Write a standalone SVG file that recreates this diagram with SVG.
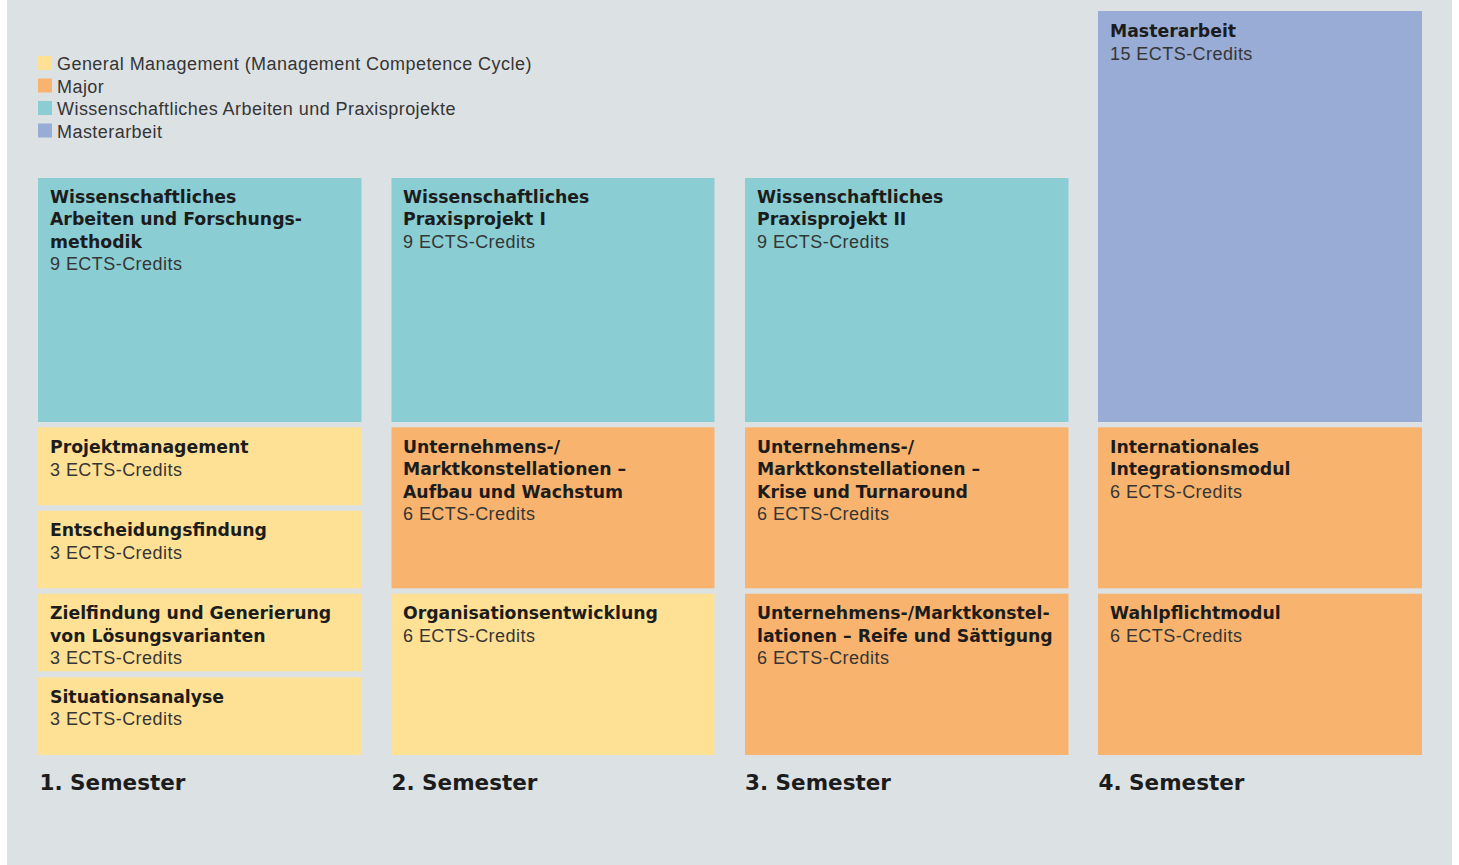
<svg xmlns="http://www.w3.org/2000/svg" width="1459" height="865" viewBox="0 0 1459 865">
<style>
.t{font-family:"DejaVu Sans","Liberation Sans",sans-serif;font-weight:bold;font-size:17.3px;fill:#1c1c1c}
.c{font-family:"Liberation Sans",Arial,sans-serif;font-size:18px;letter-spacing:0.45px;fill:#353535}
.s{font-family:"DejaVu Sans","Liberation Sans",sans-serif;font-weight:bold;font-size:21.5px;fill:#1c1c1c}
.teal{fill:#8acdd3}
.yel{fill:#ffe195}
.ora{fill:#f8b46f}
.blu{fill:#99acd5}
</style>
<rect x="0" y="0" width="1459" height="865" fill="#ffffff"/>
<rect x="7" y="0" width="1445" height="865" fill="#dce1e4"/>

<g id="legend">
<rect class="yel" x="38" y="56" width="14" height="14"/>
<text class="c" x="57" y="70">General Management (Management Competence Cycle)</text>
<rect class="ora" x="38" y="78.5" width="14" height="14"/>
<text class="c" x="57" y="92.5">Major</text>
<rect class="teal" x="38" y="101" width="14" height="14"/>
<text class="c" x="57" y="115">Wissenschaftliches Arbeiten und Praxisprojekte</text>
<rect class="blu" x="38" y="123.5" width="14" height="14"/>
<text class="c" x="57" y="137.5">Masterarbeit</text>
</g>

<!-- Column 1 -->
<g id="s1-wiss">
<rect class="teal" x="38" y="178" width="323.5" height="244"/>
<text class="t" x="50" y="202.5">Wissenschaftliches</text>
<text class="t" x="50" y="225">Arbeiten und Forschungs-</text>
<text class="t" x="50" y="247.5">methodik</text>
<text class="c" x="50" y="270">9 ECTS-Credits</text>
</g>
<g id="s1-projekt">
<rect class="yel" x="38" y="427.3" width="323.5" height="78"/>
<text class="t" x="50" y="452.5">Projektmanagement</text>
<text class="c" x="50" y="475.5">3 ECTS-Credits</text>
</g>
<g id="s1-entscheidung">
<rect class="yel" x="38" y="510.7" width="323.5" height="77.6"/>
<text class="t" x="50" y="536">Entscheidungsfindung</text>
<text class="c" x="50" y="559">3 ECTS-Credits</text>
</g>
<g id="s1-zielfindung">
<rect class="yel" x="38" y="593.7" width="323.5" height="77.6"/>
<text class="t" x="50" y="618.5">Zielfindung und Generierung</text>
<text class="t" x="50" y="641.5">von Lösungsvarianten</text>
<text class="c" x="50" y="664">3 ECTS-Credits</text>
</g>
<g id="s1-situation">
<rect class="yel" x="38" y="677.3" width="323.5" height="77.7"/>
<text class="t" x="50" y="702.5">Situationsanalyse</text>
<text class="c" x="50" y="725">3 ECTS-Credits</text>
</g>

<!-- Column 2 -->
<g id="s2-wiss">
<rect class="teal" x="391.5" y="178" width="323" height="244"/>
<text class="t" x="403" y="202.5">Wissenschaftliches</text>
<text class="t" x="403" y="225">Praxisprojekt I</text>
<text class="c" x="403" y="247.5">9 ECTS-Credits</text>
</g>
<g id="s2-markt">
<rect class="ora" x="391.5" y="427.3" width="323" height="161"/>
<text class="t" x="403" y="452.5">Unternehmens-/</text>
<text class="t" x="403" y="475">Marktkonstellationen –</text>
<text class="t" x="403" y="497.5">Aufbau und Wachstum</text>
<text class="c" x="403" y="520">6 ECTS-Credits</text>
</g>
<g id="s2-org">
<rect class="yel" x="391.5" y="593.7" width="323" height="161.3"/>
<text class="t" x="403" y="618.5">Organisationsentwicklung</text>
<text class="c" x="403" y="641.5">6 ECTS-Credits</text>
</g>

<!-- Column 3 -->
<g id="s3-wiss">
<rect class="teal" x="745" y="178" width="323.5" height="244"/>
<text class="t" x="757" y="202.5">Wissenschaftliches</text>
<text class="t" x="757" y="225">Praxisprojekt II</text>
<text class="c" x="757" y="247.5">9 ECTS-Credits</text>
</g>
<g id="s3-krise">
<rect class="ora" x="745" y="427.3" width="323.5" height="161"/>
<text class="t" x="757" y="452.5">Unternehmens-/</text>
<text class="t" x="757" y="475">Marktkonstellationen –</text>
<text class="t" x="757" y="497.5">Krise und Turnaround</text>
<text class="c" x="757" y="520">6 ECTS-Credits</text>
</g>
<g id="s3-reife">
<rect class="ora" x="745" y="593.7" width="323.5" height="161.3"/>
<text class="t" x="757" y="618.5">Unternehmens-/Marktkonstel-</text>
<text class="t" x="757" y="641.5">lationen – Reife und Sättigung</text>
<text class="c" x="757" y="664">6 ECTS-Credits</text>
</g>

<!-- Column 4 -->
<g id="s4-master">
<rect class="blu" x="1098" y="11" width="324" height="411"/>
<text class="t" x="1110" y="36.5">Masterarbeit</text>
<text class="c" x="1110" y="60">15 ECTS-Credits</text>
</g>
<g id="s4-intl">
<rect class="ora" x="1098" y="427.3" width="324" height="161"/>
<text class="t" x="1110" y="452.5">Internationales</text>
<text class="t" x="1110" y="475">Integrationsmodul</text>
<text class="c" x="1110" y="497.5">6 ECTS-Credits</text>
</g>
<g id="s4-wahl">
<rect class="ora" x="1098" y="593.7" width="324" height="161.3"/>
<text class="t" x="1110" y="618.5">Wahlpflichtmodul</text>
<text class="c" x="1110" y="641.5">6 ECTS-Credits</text>
</g>

<g id="semester-labels">
<text class="s" x="39.5" y="790">1. Semester</text>
<text class="s" x="391.5" y="790">2. Semester</text>
<text class="s" x="745" y="790">3. Semester</text>
<text class="s" x="1098.5" y="790">4. Semester</text>
</g>
</svg>
